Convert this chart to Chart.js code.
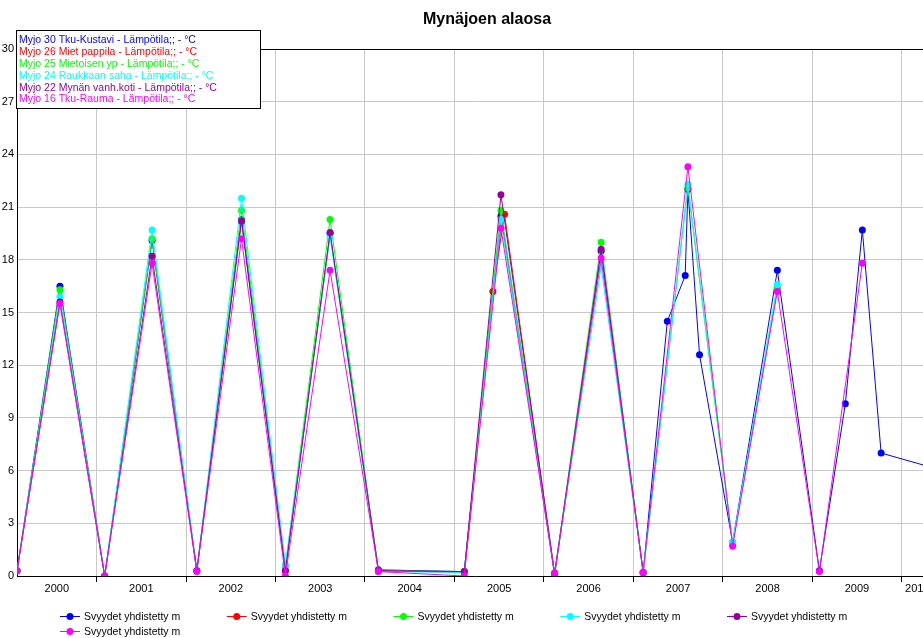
<!DOCTYPE html>
<html>
<head>
<meta charset="utf-8">
<title>Mynäjoen alaosa</title>
<style>
  html, body { margin: 0; padding: 0; background: #ffffff; overflow: hidden; width: 923px; height: 638px; }
  #wrap { position: absolute; left: 0; top: 0; width: 940px; height: 638px; }
</style>
<script src="https://cdn.jsdelivr.net/npm/chart.js@4.4.1/dist/chart.umd.min.js"></script>
</head>
<body>
<div id="wrap"><canvas id="chart" width="940" height="638"></canvas></div>
<script>
// Sampling dates as decimal years (winter and summer samples)
const sampleDates = [
  2000.11, 2000.59, 2001.09, 2001.62, 2002.12, 2002.62, 2003.11, 2003.61,
  2004.15, 2005.11, 2005.43, 2005.52, 2005.56, 2006.12, 2006.64, 2007.11,
  2007.38, 2007.58, 2007.61, 2007.74, 2008.11, 2008.61, 2009.08, 2009.37,
  2009.56, 2009.77, 2010.60
];

// Water temperature, °C (null = not sampled at that station)
const tkuKustavi = [
  0.3, 16.5, 0.0, 19.1, 0.3, 20.3, 0.3, 19.5,
  0.35, 0.25, null, 20.5, null, 0.05, 18.5, 0.2,
  14.5, 17.1, 22.0, 12.6, 1.9, 17.4, 0.3, 9.8,
  19.7, 7.0, 5.8
];
const mietPappila = [
  null, null, null, null, null, null, null, null,
  0.3, 0.2, 16.2, null, 20.6, 0.1, null, null,
  null, null, null, null, null, null, null, null,
  null, null, null
];
const mietoisenYp = [
  0.3, 16.3, 0.0, 19.2, 0.3, 20.8, 0.55, 20.3,
  0.3, 0.25, null, 20.8, null, 0.15, 19.0, 0.2,
  null, null, 22.1, null, 1.8, 16.4, null, null,
  null, null, null
];
const raukkaanSaha = [
  0.3, 15.9, 0.0, 19.7, 0.3, 21.5, 0.65, 19.3,
  0.25, 0.2, null, 20.3, null, 0.15, 17.6, 0.2,
  null, null, 22.3, null, 1.9, 16.6, null, null,
  null, null, null
];
const mynanVanhKoti = [
  0.3, 15.6, 0.0, 18.2, 0.3, 20.2, 0.3, 19.55,
  0.3, 0.25, null, 21.7, null, 0.15, 18.6, 0.2,
  null, null, null, null, null, null, null, null,
  null, null, null
];
const tkuRauma = [
  0.3, 15.5, 0.0, 17.8, 0.25, 19.2, 0.0, 17.4,
  0.25, 0.0, null, 19.8, null, 0.15, 18.1, 0.2,
  null, null, 23.3, null, 1.7, 16.2, 0.25, null,
  17.8, null, null
];

const stationNames = [
  'Myjo 30 Tku-Kustavi - Lämpötila;; - °C',
  'Myjo 26 Miet pappila - Lämpötila;; - °C',
  'Myjo 25 Mietoisen yp - Lämpötila;; - °C',
  'Myjo 24 Raukkaan saha - Lämpötila;; - °C',
  'Myjo 22 Mynän vanh.koti - Lämpötila;; - °C',
  'Myjo 16 Tku-Rauma - Lämpötila;; - °C'
];
const seriesColors = ['#0000ff', '#ff0000', '#00ff00', '#00ffff', '#990099', '#ff00ff'];
const depthLabel = 'Svyydet yhdistetty m';
const chartTitle = 'Mynäjoen alaosa';
const firstYear = 2000, lastYear = 2010;

const stationSeries = [tkuKustavi, mietPappila, mietoisenYp, raukkaanSaha, mynanVanhKoti, tkuRauma];

const FONT = "'Liberation Sans', Arial, sans-serif";
const X_MIN = 2000.11, X_MAX = 2010.35;
const isYearStart = v => Math.abs(v - Math.round(v)) < 1e-6;
const GRID = '#c8c8c8';
const CLEAR = 'rgba(0,0,0,0)';

const datasets = stationSeries.map((vals, i) => ({
  label: depthLabel,
  data: sampleDates.map((d, k) => ({ x: d, y: vals[k] })).filter(p => p.y !== null),
  borderColor: seriesColors[i],
  backgroundColor: seriesColors[i],
  borderWidth: 1,
  pointRadius: 3.5,
  pointHoverRadius: 3.5,
  pointBorderWidth: 0,
  tension: 0,
  fill: false,
  order: stationSeries.length - 1 - i
}));

// Frame, title and both legends
const decorations = {
  id: 'decorations',
  afterDraw(chart) {
    const ctx = chart.ctx;
    const a = chart.chartArea;
    ctx.save();

    // top border of the plot
    ctx.strokeStyle = '#000';
    ctx.lineWidth = 1;
    ctx.beginPath();
    ctx.moveTo(a.left, a.top + 0.5);
    ctx.lineTo(a.right, a.top + 0.5);
    ctx.stroke();

    // title
    ctx.fillStyle = '#000';
    ctx.font = 'bold 16px ' + FONT;
    ctx.textAlign = 'center';
    ctx.textBaseline = 'middle';
    ctx.fillText(chartTitle, 487, 20);

    // station legend box
    ctx.fillStyle = '#fff';
    ctx.fillRect(17, 30, 244, 78);
    ctx.strokeStyle = '#000';
    ctx.strokeRect(16.5, 30.5, 244, 78);
    ctx.font = '10.5px ' + FONT;
    ctx.textAlign = 'left';
    ctx.textBaseline = 'middle';
    stationNames.forEach((name, i) => {
      ctx.fillStyle = seriesColors[i];
      ctx.fillText(name, 19, 40.5 + i * 11.8);
    });

    // series legend below the axis
    ctx.font = '10.5px ' + FONT;
    ctx.textBaseline = 'middle';
    seriesColors.forEach((col, i) => {
      const row = i < 5 ? 0 : 1;
      const colIdx = i < 5 ? i : 0;
      const x0 = 60 + colIdx * 166.75;
      const y = row === 0 ? 616.5 : 631.5;
      ctx.strokeStyle = col;
      ctx.lineWidth = 1;
      ctx.beginPath();
      ctx.moveTo(x0, y);
      ctx.lineTo(x0 + 20, y);
      ctx.stroke();
      ctx.fillStyle = col;
      ctx.beginPath();
      ctx.arc(x0 + 10, y, 3.5, 0, Math.PI * 2);
      ctx.fill();
      ctx.fillStyle = '#000';
      ctx.fillText(depthLabel, x0 + 24, y + 0.5);
    });
    ctx.restore();
  }
};

new Chart(document.getElementById('chart'), {
  type: 'line',
  data: { datasets },
  options: {
    responsive: false,
    animation: false,
    devicePixelRatio: 1,
    events: [],
    layout: { padding: { left: 0, top: 49, right: 7, bottom: 0 } },
    plugins: {
      legend: { display: false },
      title: { display: false },
      tooltip: { enabled: false }
    },
    scales: {
      x: {
        type: 'linear',
        min: X_MIN,
        max: X_MAX,
        afterBuildTicks(scale) {
          // year boundaries carry grid lines; year labels sit in the middle of each visible year
          const t = [];
          for (let y = firstYear; y <= lastYear; y++) {
            if (y > X_MIN && y < X_MAX) t.push({ value: y });
            const lo = Math.max(y, X_MIN), hi = Math.min(y + 1, X_MAX);
            if (hi > lo) t.push({ value: (lo + hi) / 2 });
          }
          t.sort((p, q) => p.value - q.value);
          scale.ticks = t;
        },
        afterFit(scale) { scale.height = 62; },
        grid: {
          color: c => (c.tick && isYearStart(c.tick.value)) ? GRID : CLEAR,
          tickColor: c => (c.tick && isYearStart(c.tick.value)) ? '#000' : CLEAR,
          tickLength: 6,
          lineWidth: 1
        },
        border: { color: '#000', width: 1 },
        ticks: {
          autoSkip: false,
          maxRotation: 0,
          minRotation: 0,
          padding: 0,
          color: '#000',
          font: { family: FONT, size: 11 },
          callback: v => isYearStart(v) ? '' : String(Math.floor(v))
        }
      },
      y: {
        min: 0,
        max: 30,
        afterFit(scale) { scale.width = 17; },
        grid: { color: GRID, drawTicks: false, lineWidth: 1 },
        border: { color: '#000', width: 1 },
        ticks: {
          stepSize: 3,
          padding: 3,
          color: '#000',
          font: { family: FONT, size: 11 }
        }
      }
    }
  },
  plugins: [decorations]
});
</script>
</body>
</html>
